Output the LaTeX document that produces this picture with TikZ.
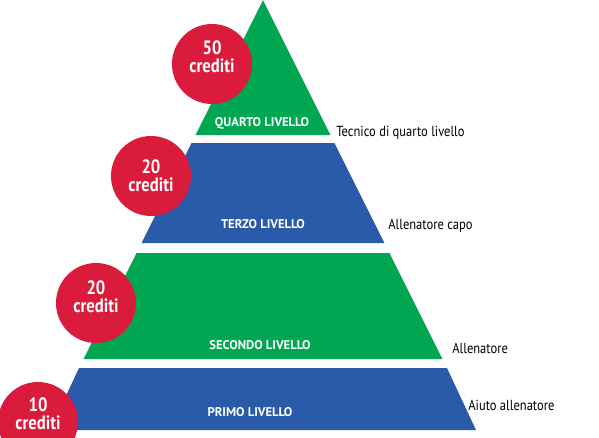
\documentclass[tikz,border=0pt]{standalone}
\usepackage{fontspec}
\setmainfont{PT Sans}
\newfontfamily\narrowsans[FakeStretch=0.86]{PT Sans}
\usepackage{tikz}
\usetikzlibrary{shapes.geometric, positioning}

\definecolor{lvgreen}{HTML}{00A651}
\definecolor{lvblue}{HTML}{2A5BA8}
\definecolor{lvred}{HTML}{DB1B3B}

\begin{document}
\begin{tikzpicture}[
  x=0.02cm, y=-0.02cm,
  lvl/.style={text=white, font=\bfseries\fontsize{7.2}{8}\selectfont},
  role/.style={anchor=west, inner sep=0pt, font=\narrowsans\fontsize{8.3}{10}\selectfont},
  badge/.style={circle, fill=lvred, minimum size=80*0.02cm, inner sep=0pt},
  badgetext/.style={text=white, align=center, inner sep=0pt, font=\narrowsans\bfseries\fontsize{11}{10.5}\selectfont}
]
\useasboundingbox (0,0) rectangle (599,437);

% pyramid layers
\fill[lvgreen] (263,0) -- (330.5,135) -- (195.5,135) -- cycle;
\fill[lvblue] (191.5,143) -- (334.5,143) -- (384.5,243) -- (141.5,243) -- cycle;
\fill[lvgreen] (136.5,253) -- (389.5,253) -- (442.5,359) -- (83.5,359) -- cycle;
\fill[lvblue] (79,368) -- (447,368) -- (476,430) -- (50,430) -- cycle;

\node[lvl] (quarto) at (262,123) {QUARTO LIVELLO};
\node[lvl] (terzo) at (263,224) {TERZO LIVELLO};
\node[lvl] (secondo) at (260,345) {SECONDO LIVELLO};
\node[lvl] (primo) at (250,412) {PRIMO LIVELLO};

% credit badges
\node[badge, label={[badgetext, yshift=0.14cm]center:50\\crediti}] (c50) at (212,64) {};
\node[badge, label={[badgetext]center:20\\crediti}] (c20a) at (151,176) {};
\node[badge, label={[badgetext, yshift=0.12cm]center:20\\crediti}] (c20b) at (96,303) {};
\node[badge, label={[badgetext, yshift=0.16cm]center:10\\crediti}] (c10) at (38,422) {};

\node[role] (tecnico) at (336,133) {Tecnico di quarto livello};
\node[role] (capo) at (388,226) {Allenatore capo};
\node[role] (allen) at (452,348) {Allenatore};
\node[role] (aiuto) at (468,405) {Aiuto allenatore};

\end{tikzpicture}
\end{document}
